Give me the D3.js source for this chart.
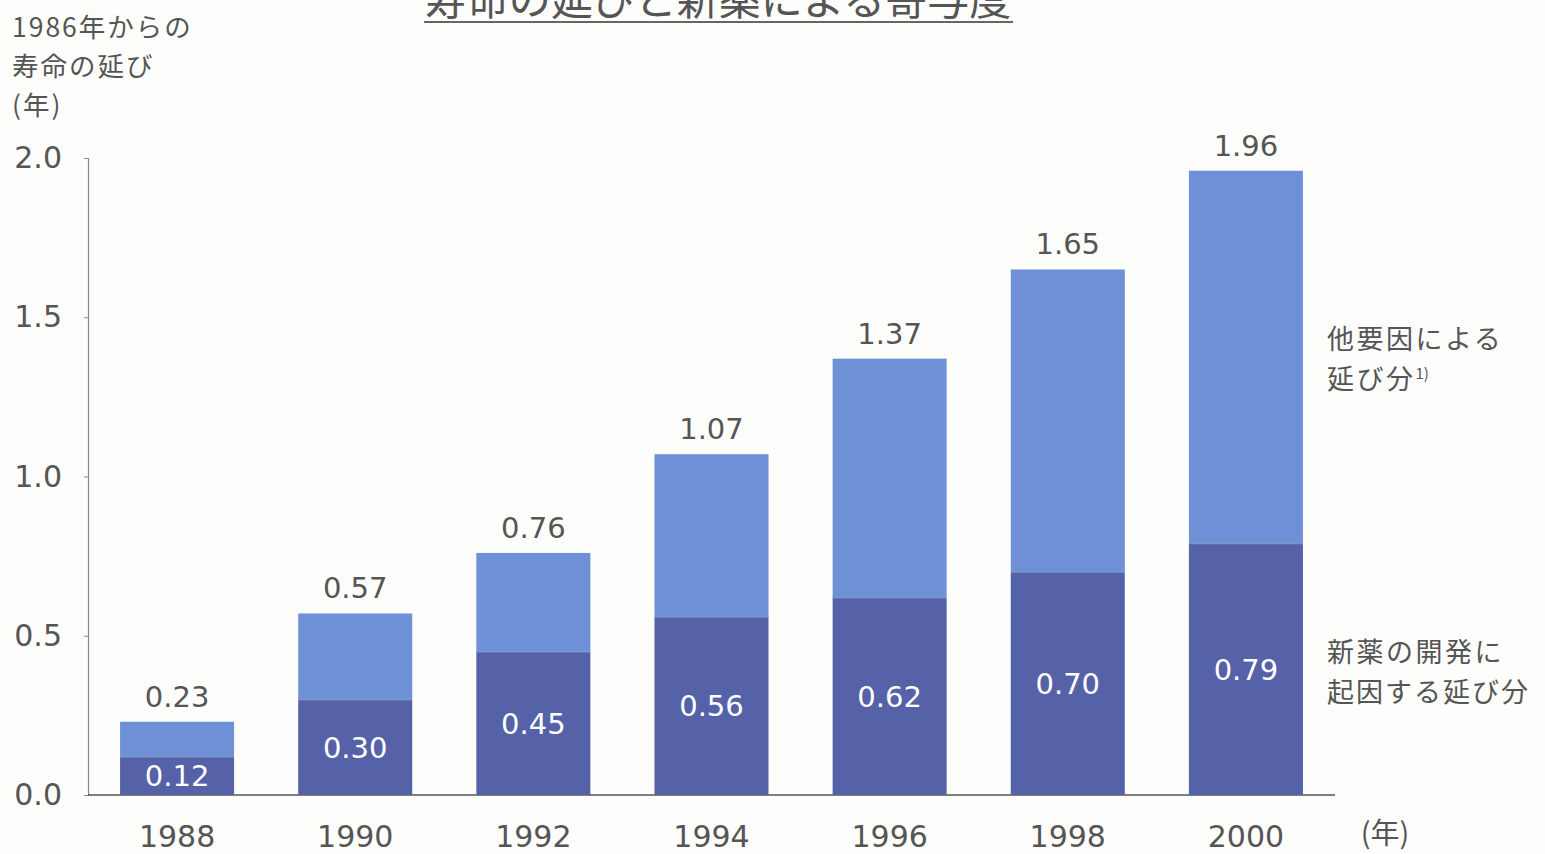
<!DOCTYPE html>
<html>
<head>
<meta charset="utf-8">
<script src="https://cdn.jsdelivr.net/npm/d3@7"></script>
<style>
  html, body { margin: 0; padding: 0; background: #fdfdfb; }
  svg { display: block; }
</style>
</head>
<body>
<svg id="chart" width="1545" height="854"></svg>
<script>
// Years since 1986 and gain in life expectancy (years)
const years = ["1988", "1990", "1992", "1994", "1996", "1998", "2000"];
const totalGain = [0.23, 0.57, 0.76, 1.07, 1.37, 1.65, 1.96];
const drugGain = [0.12, 0.30, 0.45, 0.56, 0.62, 0.70, 0.79];
const yTicks = [0.0, 0.5, 1.0, 1.5, 2.0];

const svg = d3.select("#chart");
const numFont = "'DejaVu Sans', Verdana, sans-serif";
const jpFont = "'Noto Sans CJK JP', 'Noto Sans', sans-serif";
const textColor = "#555";
const lightBlue = "#6d90d6";
const darkBlue = "#5562a8";

const x = d3.scaleBand().domain(years).range([88, 1335]).paddingInner(0.36).paddingOuter(0.18);
const y = d3.scaleLinear().domain([0, 2]).range([795, 158]);

// Title (underlined)
svg.append("text")
  .attr("x", 718).attr("y", 15)
  .attr("text-anchor", "middle")
  .attr("font-family", jpFont).attr("font-size", 42)
  .attr("fill", "#555")
  .text("寿命の延びと新薬による寄与度");
svg.append("line")
  .attr("x1", 424).attr("x2", 1013).attr("y1", 22).attr("y2", 22)
  .attr("stroke", "#666").attr("stroke-width", 2);

// Y axis title
const yTitle = ["1986年からの", "寿命の延び", "(年)"];
svg.append("g").selectAll("text").data(yTitle).join("text")
  .attr("x", 12).attr("y", (d, i) => 37 + i * 39)
  .attr("font-family", jpFont).attr("font-size", 26.5)
  .attr("letter-spacing", 2)
  .attr("fill", textColor)
  .text(d => d);

// Y axis
const yAxis = d3.axisLeft(y).tickValues(yTicks).tickFormat(d3.format(".1f")).tickSize(4).tickPadding(22);
const gy = svg.append("g").attr("transform", "translate(88,0)").call(yAxis);
gy.select(".domain").attr("stroke", "#888").attr("stroke-width", 1.2);
gy.selectAll(".tick line").attr("stroke", "#888");
gy.selectAll(".tick text")
  .attr("font-family", numFont).attr("font-size", 30).attr("fill", textColor);

// X axis
const xAxis = d3.axisBottom(x).tickSize(0).tickPadding(31);
const gx = svg.append("g").attr("transform", "translate(0,795)").call(xAxis);
gx.select(".domain").attr("stroke", "#555").attr("stroke-width", 1.5)
  .attr("d", "M88,0H1335");
gx.selectAll(".tick text")
  .attr("font-family", numFont).attr("font-size", 30).attr("fill", textColor);
svg.append("text")
  .attr("x", 1385).attr("y", 844)
  .attr("text-anchor", "middle")
  .attr("font-family", jpFont).attr("font-size", 29).attr("fill", textColor)
  .text("(年)");

const data = years.map((yr, i) => ({ yr, total: totalGain[i], drug: drugGain[i] }));

// Bars: other factors (top) stacked on new-drug contribution (bottom)
const bars = svg.append("g");
bars.selectAll("rect.other").data(data).join("rect")
  .attr("class", "other")
  .attr("x", d => x(d.yr)).attr("width", x.bandwidth())
  .attr("y", d => y(d.total)).attr("height", d => y(d.drug) - y(d.total))
  .attr("fill", lightBlue);
bars.selectAll("rect.drug").data(data).join("rect")
  .attr("class", "drug")
  .attr("x", d => x(d.yr)).attr("width", x.bandwidth())
  .attr("y", d => y(d.drug)).attr("height", d => y(0) - y(d.drug))
  .attr("fill", darkBlue);
bars.selectAll("rect.sep").data(data).join("rect")
  .attr("class", "sep")
  .attr("x", d => x(d.yr)).attr("width", x.bandwidth())
  .attr("y", d => y(d.drug) - 1).attr("height", 2)
  .attr("fill", "#7f97c9").attr("opacity", 0.6);

// Total labels above bars
svg.append("g").selectAll("text").data(data).join("text")
  .attr("x", d => x(d.yr) + x.bandwidth() / 2)
  .attr("y", d => y(d.total) - 15)
  .attr("text-anchor", "middle")
  .attr("font-family", numFont).attr("font-size", 29).attr("fill", textColor)
  .text(d => d.total.toFixed(2));

// New-drug labels inside dark segments
svg.append("g").selectAll("text").data(data).join("text")
  .attr("x", d => x(d.yr) + x.bandwidth() / 2)
  .attr("y", d => (y(d.drug) + y(0)) / 2)
  .attr("dy", "0.36em")
  .attr("text-anchor", "middle")
  .attr("font-family", numFont).attr("font-size", 29).attr("fill", "#ffffff")
  .text(d => d.drug.toFixed(2));

// Legend labels at right
const legend = svg.append("g").attr("font-family", jpFont).attr("font-size", 27)
  .attr("letter-spacing", 2.5).attr("fill", textColor);
legend.append("text").attr("x", 1327).attr("y", 349).text("他要因による");
const l2 = legend.append("text").attr("x", 1327).attr("y", 389).text("延び分");
l2.append("tspan").attr("font-size", 15).attr("letter-spacing", 0).attr("dy", -10).text("1)");
legend.append("text").attr("x", 1327).attr("y", 662).text("新薬の開発に");
legend.append("text").attr("x", 1327).attr("y", 702).attr("letter-spacing", 2).text("起因する延び分");
</script>
</body>
</html>
